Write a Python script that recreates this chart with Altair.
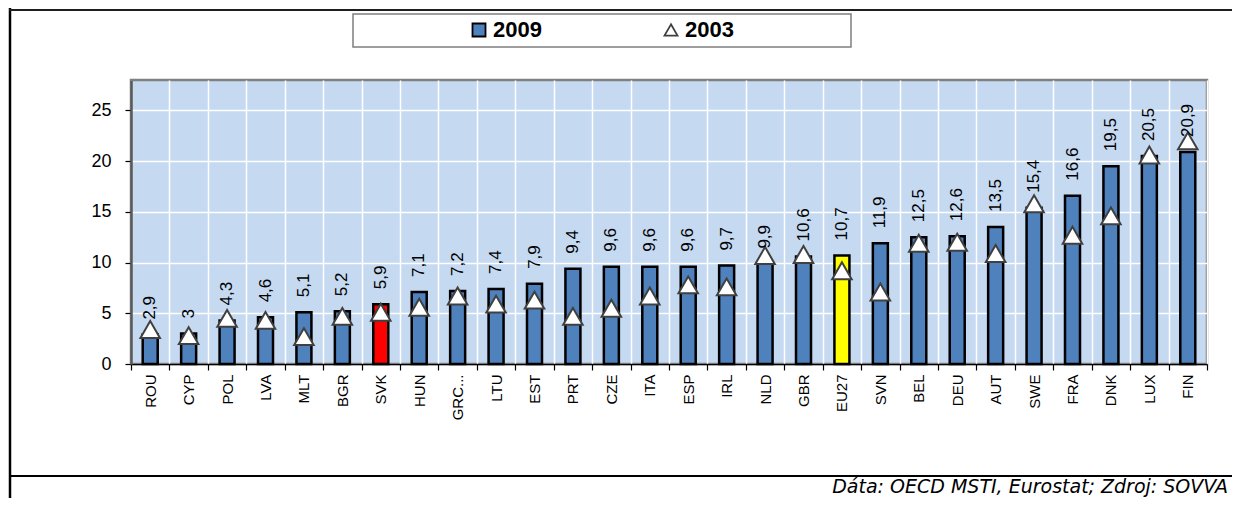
import altair as alt
import pandas as pd

countries = ["ROU", "CYP", "POL", "LVA", "MLT", "BGR", "SVK", "HUN", "GRC...", "LTU",
             "EST", "PRT", "CZE", "ITA", "ESP", "IRL", "NLD", "GBR", "EU27", "SVN",
             "BEL", "DEU", "AUT", "SWE", "FRA", "DNK", "LUX", "FIN"]
v2009 = [2.9, 3, 4.3, 4.6, 5.1, 5.2, 5.9, 7.1, 7.2, 7.4,
         7.9, 9.4, 9.6, 9.6, 9.6, 9.7, 9.9, 10.6, 10.7, 11.9,
         12.5, 12.6, 13.5, 15.4, 16.6, 19.5, 20.5, 20.9]
v2003 = [3.4, 2.8, 4.5, 4.3, 2.7, 4.7, 5.1, 5.6, 6.7, 5.9,
         6.3, 4.7, 5.5, 6.7, 7.8, 7.6, 10.7, 10.8, 9.2, 7.1,
         11.9, 12.0, 10.9, 15.8, 12.7, 14.6, 20.6, 22.0]
series_names = ["2009", "2003"]
y_ticks = [0, 5, 10, 15, 20, 25]
footer = "Dáta: OECD MSTI, Eurostat; Zdroj: SOVVA"

df = pd.DataFrame({"country": countries, "v2009": v2009, "v2003": v2003,
                   "series": "2003"})

FONT = "Liberation Sans"
BLUE = "#4F81BD"

x_enc = alt.X("country:N", sort=countries,
              scale=alt.Scale(paddingInner=0, paddingOuter=0),
              axis=alt.Axis(title=None, labelAngle=-90, labelFont=FONT,
                            labelFontSize=15, labelColor="black",
                            tickBand="extent", grid=True, gridColor="white",
                            gridWidth=1.5, domainColor="black", domainWidth=1.5,
                            tickColor="black", tickSize=6, tickWidth=1.2,
                            labelPadding=4))

y_scale = alt.Scale(domain=[0, 28], nice=False, zero=True)
y_axis = alt.Axis(title=None, values=y_ticks, labelFont=FONT, labelFontSize=18,
                  labelColor="black", grid=True, gridColor="white", gridWidth=1.5,
                  domainColor="#595959", domainWidth=2.5, tickColor="black",
                  tickSize=6, tickWidth=1.2, labelPadding=14)

bars = alt.Chart(df).mark_bar(size=15, stroke="black", strokeWidth=2.5).encode(
    x=x_enc,
    y=alt.Y("v2009:Q", scale=y_scale, axis=y_axis),
    fill=alt.value(BLUE, condition=[
        {"test": "datum.country === 'SVK'", "value": "#FF0000"},
        {"test": "datum.country === 'EU27'", "value": "#FFFF00"},
    ]),
)

legend = alt.Legend(title=None, orient="none", legendX=337, legendY=-61,
                    direction="horizontal", labelFont=FONT, labelFontSize=22,
                    labelFontWeight="bold", labelColor="black", symbolSize=169,
                    columnPadding=118, labelOffset=3, padding=0,
                    symbolStrokeWidth=1.8)

points = alt.Chart(df).mark_point(filled=True, size=380, strokeWidth=2,
                                  opacity=1).encode(
    x=x_enc,
    y=alt.Y("v2003:Q", scale=y_scale, axis=y_axis),
    fill=alt.Fill("series:N", scale=alt.Scale(domain=series_names,
                                              range=[BLUE, "white"]),
                  legend=legend),
    shape=alt.Shape("series:N", scale=alt.Scale(domain=series_names,
                                                range=["square", "triangle-up"]),
                    legend=legend),
    stroke=alt.Stroke("series:N", scale=alt.Scale(domain=series_names,
                                                  range=["black", "#404040"]),
                      legend=legend),
)

labels = alt.Chart(df).transform_calculate(
    lab="replace(toString(datum.v2009), '.', ',')"
).mark_text(angle=270, align="left", baseline="middle", dx=15, font=FONT,
            fontSize=17, color="black").encode(
    x=x_enc,
    y=alt.Y("v2009:Q", scale=y_scale, axis=y_axis),
    text="lab:N",
)

one = pd.DataFrame({"t": [footer]})

legend_box = alt.Chart(one).mark_rect(fill="white", stroke="#7F7F7F",
                                      strokeWidth=1.5).encode(
    x=alt.value(222), x2=alt.value(720), y=alt.value(-66), y2=alt.value(-33))

frame_left = alt.Chart(one).mark_rule(color="black", strokeWidth=2.5).encode(
    x=alt.value(-121), y=alt.value(-72), y2=alt.value(418))
frame_top = alt.Chart(one).mark_rule(color="#1F1F1F", strokeWidth=2).encode(
    x=alt.value(-122), x2=alt.value(1101), y=alt.value(-70))
frame_bottom = alt.Chart(one).mark_rule(color="black", strokeWidth=1.8).encode(
    x=alt.value(-122), x2=alt.value(1101), y=alt.value(396))

foot = alt.Chart(one).mark_text(align="right", baseline="alphabetic",
                                font="DejaVu Sans", fontStyle="italic", fontSize=19,
                                color="black").encode(
    x=alt.value(1097), y=alt.value(413), text="t:N")

chart = alt.layer(
    legend_box, frame_left, frame_top, frame_bottom, foot, bars, points, labels
).properties(
    width=1076, height=284,
    background="white",
    autosize=alt.AutoSizeParams(type="none"),
    padding={"left": 123, "top": 72, "right": 25, "bottom": 134},
).configure_view(
    fill="#C5D9F1", stroke="#808080", strokeWidth=2.5
)

chart.save("out.html", embed_options={"renderer": "svg", "actions": False})
